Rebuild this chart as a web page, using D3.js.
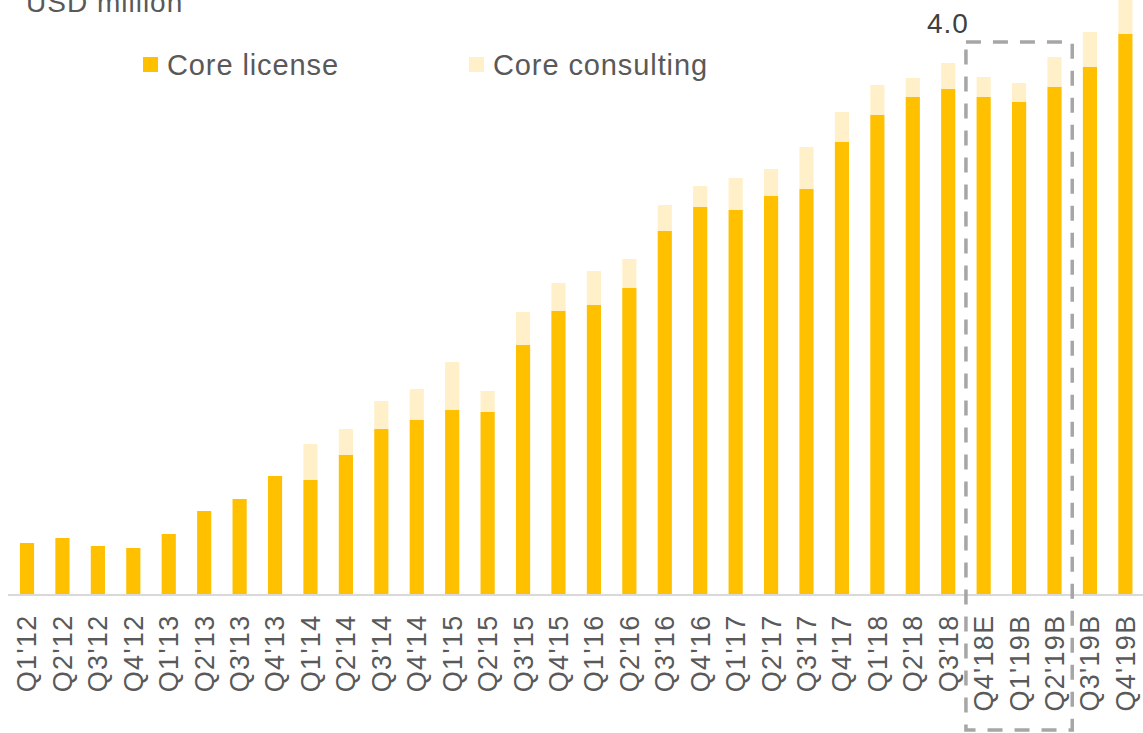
<!DOCTYPE html>
<html>
<head>
<meta charset="utf-8">
<script src="https://cdn.jsdelivr.net/npm/d3@7/dist/d3.min.js"></script>
<style>
  html, body { margin: 0; padding: 0; background: #fff; }
  svg { display: block; font-family: "Liberation Sans", Arial, Helvetica, sans-serif; }
</style>
</head>
<body>
<svg id="chart" width="1143" height="733"></svg>
<script>
// Quarterly revenue, USD million
const quarters = ["Q1'12","Q2'12","Q3'12","Q4'12","Q1'13","Q2'13","Q3'13","Q4'13",
  "Q1'14","Q2'14","Q3'14","Q4'14","Q1'15","Q2'15","Q3'15","Q4'15",
  "Q1'16","Q2'16","Q3'16","Q4'16","Q1'17","Q2'17","Q3'17","Q4'17",
  "Q1'18","Q2'18","Q3'18","Q4'18E","Q1'19B","Q2'19B","Q3'19B","Q4'19B"];
const coreLicense = [5.2,5.7,4.9,4.7,6.1,8.4,9.6,11.9,
  11.5,14.0,16.6,17.5,18.5,18.3,25.0,28.4,
  29.0,30.7,36.4,38.8,38.5,39.9,40.6,45.3,
  48.0,49.8,50.6,49.8,49.3,50.8,52.8,56.1];
const coreConsulting = [0,0,0,0,0,0,0,0,
  3.6,2.6,2.8,3.1,4.8,2.1,3.3,2.8,
  3.4,2.9,2.6,2.1,3.2,2.7,4.2,3.0,
  3.0,1.9,2.6,2.0,1.9,3.0,3.5,3.9];
const seriesNames = ["Core license", "Core consulting"];
const highlighted = ["Q4'18E", "Q1'19B", "Q2'19B"];
const highlightLabel = "4.0";
const unitLabel = "USD million";

const colors = { "Core license": "#FFC000", "Core consulting": "#FFF0C9" };
const textColor = "#595959";

const svg = d3.select("#chart");
const baseY = 595;

const rows = quarters.map((q, i) => ({
  quarter: q,
  "Core license": coreLicense[i],
  "Core consulting": coreConsulting[i]
}));
const stacked = d3.stack().keys(seriesNames)(rows);

const x = d3.scaleBand()
  .domain(quarters)
  .range([9.3, 1143.1])
  .paddingInner(0.6)
  .paddingOuter(0.3);

const y = d3.scaleLinear()
  .domain([0, 59.5])
  .range([baseY, 0]);

// stacked bars
svg.append("g")
  .selectAll("g")
  .data(stacked)
  .join("g")
  .attr("fill", d => colors[d.key])
  .selectAll("rect")
  .data(d => d)
  .join("rect")
  .attr("x", d => x(d.data.quarter))
  .attr("width", x.bandwidth())
  .attr("y", d => y(d[1]))
  .attr("height", d => Math.max(0, y(d[0]) - y(d[1])));

// category axis
const xAxis = d3.axisBottom(x).tickSize(0).tickPadding(0);
const axisG = svg.append("g")
  .attr("transform", `translate(0,${baseY})`)
  .call(xAxis);
axisG.select(".domain").remove();
axisG.append("line")
  .attr("x1", 8).attr("x2", 1143)
  .attr("y1", 0).attr("y2", 0)
  .attr("stroke", "#D9D9D9").attr("stroke-width", 2);
axisG.selectAll(".tick text")
  .attr("fill", textColor)
  .attr("font-size", 27)
  .attr("letter-spacing", 1.3)
  .attr("font-family", "\"Liberation Sans\", Arial, sans-serif")
  .attr("text-anchor", "end")
  .attr("dy", "0.35em")
  .attr("transform", "translate(0,19.5) rotate(-90)")
  .attr("x", 0).attr("y", 0);

// highlighted forecast window
const step = x.step();
const gap = step - x.bandwidth();
const boxLeft = x(highlighted[0]) - gap / 2;
const boxRight = x(highlighted[highlighted.length - 1]) + x.bandwidth() + gap / 2;
svg.append("rect")
  .attr("x", boxLeft)
  .attr("y", 42)
  .attr("width", boxRight - boxLeft)
  .attr("height", 730 - 42)
  .attr("fill", "none")
  .attr("stroke", "#A6A6A6")
  .attr("stroke-width", 3.5)
  .attr("stroke-dasharray", "15 12");

svg.append("text")
  .attr("x", boxLeft - 18)
  .attr("y", 33)
  .attr("text-anchor", "middle")
  .attr("font-size", 28)
  .attr("letter-spacing", 1)
  .attr("fill", "#404040")
  .text(highlightLabel);

// unit label
svg.append("text")
  .attr("x", 26)
  .attr("y", 12)
  .attr("font-size", 28)
  .attr("letter-spacing", 1)
  .attr("fill", textColor)
  .text(unitLabel);

// legend
const legendPos = [{ sx: 143, tx: 167 }, { sx: 469, tx: 493 }];
const legend = svg.append("g")
  .selectAll("g")
  .data(seriesNames)
  .join("g");
legend.append("rect")
  .attr("x", (d, i) => legendPos[i].sx)
  .attr("y", 57)
  .attr("width", 15).attr("height", 15)
  .attr("fill", d => colors[d]);
legend.append("text")
  .attr("x", (d, i) => legendPos[i].tx)
  .attr("y", 75)
  .attr("font-size", 29)
  .attr("letter-spacing", 0.9)
  .attr("fill", textColor)
  .text(d => d);
</script>
</body>
</html>
